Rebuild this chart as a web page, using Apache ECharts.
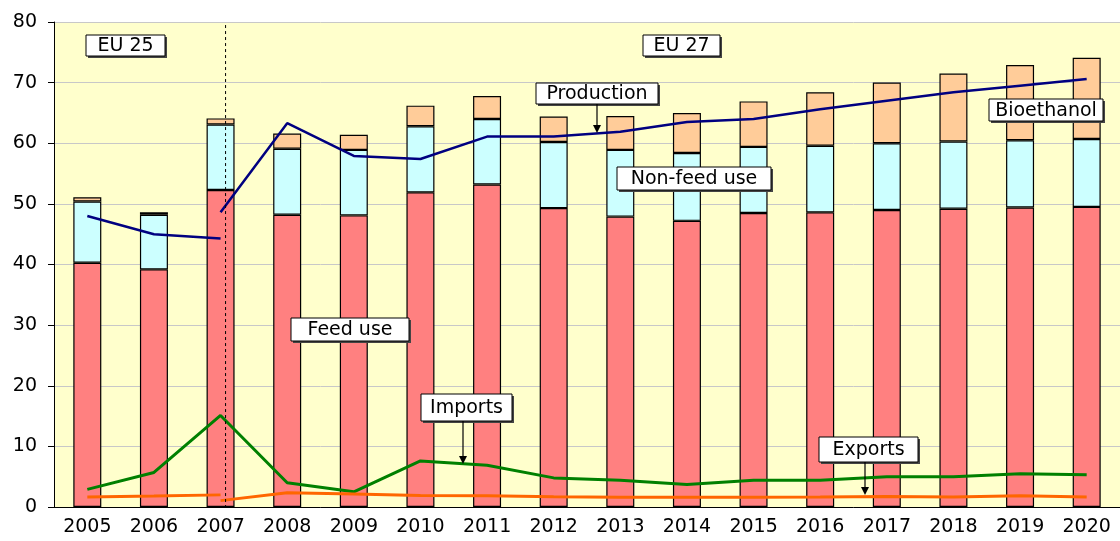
<!DOCTYPE html>
<html>
<head>
<meta charset="utf-8">
<script src="https://cdn.jsdelivr.net/npm/echarts@6/dist/echarts.min.js"></script>
<style>
  html, body { margin: 0; padding: 0; background: #fff; }
  #chart { width: 1120px; height: 541px; }
</style>
</head>
<body>
<div id="chart"></div>
<script>
// categories
var years = ['2005', '2006', '2007', '2008', '2009', '2010', '2011', '2012',
  '2013', '2014', '2015', '2016', '2017', '2018', '2019', '2020']
// stacked bars (segment heights)
var feedUse = [40.3, 39.2, 52.3, 48.2, 48.1, 51.9, 53.2, 49.3, 47.9, 47.2, 48.5, 48.6, 49.0, 49.2, 49.4, 49.5]
var nonFeedUse = [10.1, 9.0, 10.8, 10.9, 10.8, 10.9, 10.8, 10.9, 11.0, 11.2, 10.9, 11.0, 11.0, 11.1, 11.1, 11.2]
var bioethanol = [0.7, 0.4, 1.0, 2.5, 2.5, 3.4, 3.8, 4.2, 5.6, 6.6, 7.5, 8.8, 10.0, 11.2, 12.4, 13.4]
// lines, EU 25 part and EU 27 part
var productionEU25 = [48.0, 45.0, 44.3, '-', '-', '-', '-', '-', '-', '-', '-', '-', '-', '-', '-', '-']
var productionEU27 = ['-', '-', 48.6, 63.3, 57.9, 57.4, 61.1, 61.1, 61.9, 63.5, 64.0, 65.6, 67.0, 68.4, 69.5, 70.6]
var imports = [2.9, 5.7, 15.1, 4.0, 2.5, 7.6, 6.9, 4.8, 4.4, 3.7, 4.4, 4.4, 5.0, 5.0, 5.5, 5.3]
var exportsEU25 = [1.65, 1.8, 2.0, '-', '-', '-', '-', '-', '-', '-', '-', '-', '-', '-', '-', '-']
var exportsEU27 = ['-', '-', 1.05, 2.35, 2.15, 1.9, 1.85, 1.7, 1.6, 1.6, 1.6, 1.65, 1.75, 1.65, 1.85, 1.65]

var fontName = 'DejaVu Sans'
var chart = echarts.init(document.getElementById('chart'))

function barSeries (name, data, color) {
  return {
    name: name,
    type: 'bar',
    stack: 'use',
    barWidth: 28,
    data: data,
    itemStyle: { color: color, borderColor: '#000', borderWidth: 1.2 }
  }
}

function lineSeries (name, data, color, width) {
  return {
    name: name,
    type: 'line',
    symbol: 'none',
    connectNulls: false,
    data: data,
    z: 5,
    lineStyle: { color: color, width: width }
  }
}

// annotation box (white, black border, thin dark shadow)
function labelBox (text, x, y, w, h) {
  return {
    type: 'group',
    z: 100,
    children: [
      {
        type: 'rect',
        z: 99,
        shape: { x: x + 2, y: y + 2, width: w, height: h },
        style: { fill: '#444', stroke: null }
      },
      {
        type: 'rect',
        z: 100,
        shape: { x: x, y: y, width: w, height: h },
        style: { fill: '#fff', stroke: '#000', lineWidth: 1 }
      },
      {
        type: 'text',
        z: 101,
        x: x + w / 2,
        y: y + h / 2 + 1,
        style: { text: text, fill: '#000', font: '19px "' + fontName + '"', align: 'center', verticalAlign: 'middle' }
      }
    ]
  }
}

function arrow (x, y1, y2) {
  return {
    type: 'group',
    z: 100,
    children: [
      { type: 'line', z: 100, shape: { x1: x, y1: y1, x2: x, y2: y2 - 6 }, style: { stroke: '#000', lineWidth: 1.2 } },
      { type: 'polygon', z: 100, shape: { points: [[x - 4, y2 - 8], [x + 4, y2 - 8], [x, y2]] }, style: { fill: '#000' } }
    ]
  }
}

var option = {
  animation: false,
  backgroundColor: '#fff',
  textStyle: { fontFamily: fontName },
  grid: {
    left: 54,
    right: -13,
    top: 22,
    bottom: 34,
    show: true,
    backgroundColor: '#FFFFCC',
    borderWidth: 0
  },
  xAxis: {
    type: 'category',
    data: years,
    axisLine: { lineStyle: { color: '#000', width: 1 } },
    axisTick: { length: 6, lineStyle: { color: '#000' } },
    axisLabel: { color: '#000', fontSize: 19, fontFamily: fontName, margin: 11, interval: 0 }
  },
  yAxis: {
    type: 'value',
    min: 0,
    max: 80,
    interval: 10,
    axisLine: { show: true, lineStyle: { color: '#000', width: 1 } },
    axisTick: { show: true, length: 6, lineStyle: { color: '#000' } },
    axisLabel: { color: '#000', fontSize: 19, fontFamily: fontName, margin: 17 },
    splitLine: { lineStyle: { color: '#c8c8c8', width: 1 } }
  },
  series: [
    barSeries('Feed use', feedUse, '#FF8080'),
    barSeries('Non-feed use', nonFeedUse, '#CCFFFF'),
    barSeries('Bioethanol', bioethanol, '#FFCC99'),
    lineSeries('Production EU 25', productionEU25, '#000080', 2.5),
    lineSeries('Production', productionEU27, '#000080', 2.5),
    lineSeries('Imports', imports, '#008000', 3),
    lineSeries('Exports EU 25', exportsEU25, '#FF6600', 3),
    lineSeries('Exports', exportsEU27, '#FF6600', 3)
  ]
}
chart.setOption(option)

// EU 25 / EU 27 divider, just right of the 2007 bar centre
var divX = chart.convertToPixel({ xAxisIndex: 0 }, '2007') + 5
var yTop = chart.convertToPixel({ yAxisIndex: 0 }, 79.5)
var yBottom = chart.convertToPixel({ yAxisIndex: 0 }, 0)

chart.setOption({
  graphic: [
    {
      type: 'line',
      z: 90,
      shape: { x1: divX, y1: yTop, x2: divX, y2: yBottom },
      style: { stroke: '#000', lineWidth: 1, lineDash: [3, 3] }
    },
    labelBox('EU 25', 86, 35, 79, 21),
    labelBox('EU 27', 643, 35, 77, 21),
    labelBox('Production', 536, 83, 122, 21),
    arrow(597, 104, 133),
    labelBox('Non-feed use', 617, 167, 154, 23),
    labelBox('Bioethanol', 989, 99, 114, 22),
    labelBox('Feed use', 291, 318, 118, 23),
    labelBox('Imports', 421, 394, 91, 27),
    arrow(463, 421, 464),
    labelBox('Exports', 819, 437, 99, 25),
    arrow(865, 462, 495)
  ]
})
</script>
</body>
</html>
